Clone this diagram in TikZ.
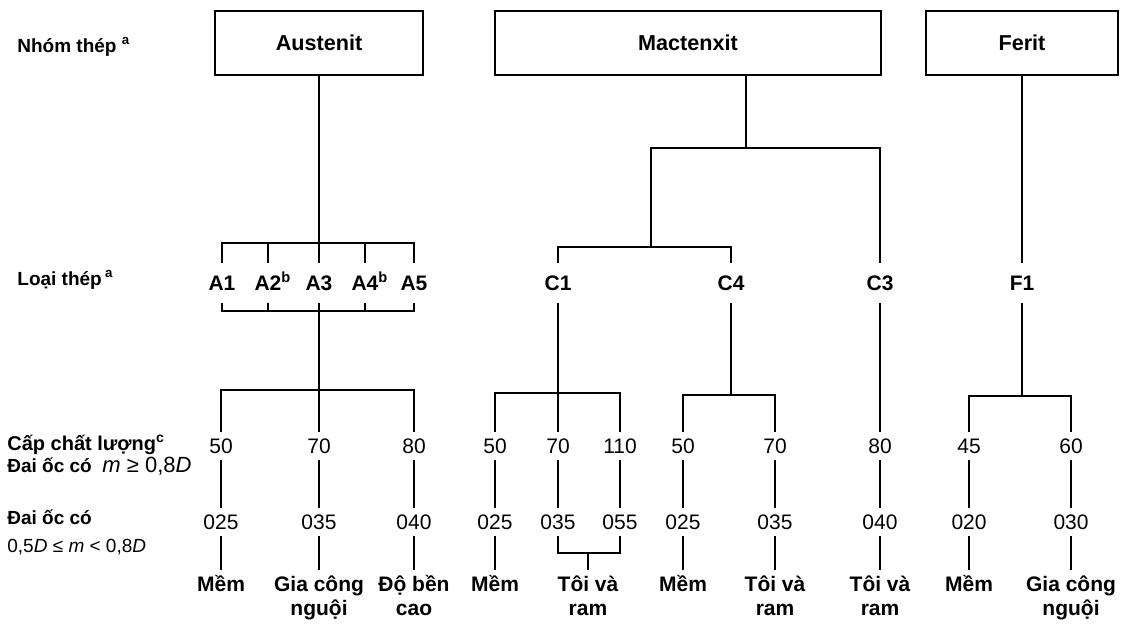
\documentclass[tikz,border=0pt]{standalone}
\usepackage{fontspec}
\setmainfont{Liberation Sans}
\usepackage{tikz}
\newcommand{\capstrut}{\vphantom{Ề}}

\begin{document}
\begin{tikzpicture}[x=0.5pt,y=-0.5pt]
\tikzstyle{steelgroup}=[draw,line width=1.3pt,minimum height=32pt,inner sep=3pt,font=\bfseries\fontsize{10.8}{13}\selectfont]
\tikzstyle{kind}=[inner sep=6pt,text height=7.5pt,text depth=0pt,font=\bfseries\fontsize{10.5}{12}\selectfont]
\tikzstyle{grade}=[inner sep=3pt,text height=7.5pt,text depth=0pt,font=\fontsize{10.5}{12}\selectfont]
\tikzstyle{treat}=[anchor=north,inner sep=1pt,align=center,font=\bfseries\fontsize{10.5}{12}\selectfont]
\tikzstyle{rowlabel}=[anchor=base west,inner sep=0pt,font=\bfseries\fontsize{9.5}{11}\selectfont]
\tikzstyle{link}=[line width=0.85pt]
\useasboundingbox (0,0) rectangle (1127,628);

\node[rowlabel] (lnhom) at (17,52) {Nhóm thép \textsuperscript{a}};
\node[rowlabel] (lloai) at (17,285) {Loại thép\,\textsuperscript{a}};
\node[rowlabel,font=\bfseries\fontsize{10}{12}\selectfont] (lcap) at (7,450) {Cấp chất lượng\textsuperscript{c}};
\node[rowlabel] (lday1) at (7,472) {Đai ốc có\ \ {\mdseries\fontsize{11}{12}\selectfont\textit{m} ≥ 0,8\textit{D}}};
\node[rowlabel] (lday2) at (7,524) {Đai ốc có};
\node[rowlabel,font=\fontsize{9.5}{11}\selectfont] (lday3) at (7,552) {0,5\textit{D} ≤ \textit{m} < 0,8\textit{D}};

\node[steelgroup,minimum width=104pt] (aus) at (319,43) {Austenit};
\node[steelgroup,minimum width=193pt] (mac) at (688,43) {Mactenxit};
\node[steelgroup,minimum width=96pt] (fer) at (1022,43) {Ferit};

\node[kind] (a1) at (222,283) {A1};
\node[kind] (a2) at (268,283) {A2\rlap{\textsuperscript{b}}};
\node[kind] (a3) at (319,283) {A3};
\node[kind] (a4) at (365,283) {A4\rlap{\textsuperscript{b}}};
\node[kind] (a5) at (414,283) {A5};
\node[kind] (c1) at (558,283) {C1};
\node[kind] (c4) at (731,283) {C4};
\node[kind] (c3) at (880,283) {C3};
\node[kind] (f1) at (1022,283) {F1};

\coordinate (ta) at (319,243);
\coordinate (ba) at (319,311);
\coordinate (ga) at (319,390);
\coordinate (jm) at (746,148);
\coordinate (jl) at (651,247);
\coordinate (g1) at (558,393);
\coordinate (g4) at (731,395);
\coordinate (gf) at (1022,396);
\coordinate (jt) at (588,553);

\node[grade] (a50) at (221,446) {50};
\node[grade] (a70) at (319,446) {70};
\node[grade] (a80) at (414,446) {80};
\node[grade] (c150) at (495,446) {50};
\node[grade] (c170) at (558,446) {70};
\node[grade] (c1110) at (620,446) {110};
\node[grade] (c450) at (683,446) {50};
\node[grade] (c470) at (775,446) {70};
\node[grade] (c380) at (880,446) {80};
\node[grade] (f45) at (969,446) {45};
\node[grade] (f60) at (1071,446) {60};

\node[grade] (a025) at (221,522) {025};
\node[grade] (a035) at (319,522) {035};
\node[grade] (a040) at (414,522) {040};
\node[grade] (c1025) at (495,522) {025};
\node[grade] (c1035) at (558,522) {035};
\node[grade] (c1055) at (620,522) {055};
\node[grade] (c4025) at (683,522) {025};
\node[grade] (c4035) at (775,522) {035};
\node[grade] (c3040) at (880,522) {040};
\node[grade] (f020) at (969,522) {020};
\node[grade] (f030) at (1071,522) {030};

\node[treat] (amem) at (221,570) {\capstrut Mềm};
\node[treat] (agia) at (319,570) {\capstrut Gia công\\nguội};
\node[treat] (ado) at (414,570) {\capstrut Độ bền\\cao};
\node[treat] (c1mem) at (495,570) {\capstrut Mềm};
\node[treat] (c1toi) at (588,570) {\capstrut Tôi và\\ram};
\node[treat] (c4mem) at (683,570) {\capstrut Mềm};
\node[treat] (c4toi) at (775,570) {\capstrut Tôi và\\ram};
\node[treat] (c3toi) at (880,570) {\capstrut Tôi và\\ram};
\node[treat] (fmem) at (969,570) {\capstrut Mềm};
\node[treat] (fgia) at (1071,570) {\capstrut Gia công\\nguội};

\draw[link] (aus.south) -- (a3.north);
\draw[link] (a1.north) |- (ta) -| (a5.north);
\draw[link] (a2.north) -- (a2.north |- ta);
\draw[link] (a4.north) -- (a4.north |- ta);
\draw[link] (a1.south) |- (ba) -| (a5.south);
\draw[link] (a2.south) -- (a2.south |- ba);
\draw[link] (a4.south) -- (a4.south |- ba);
\draw[link] (a3.south) -- (a70.north);
\draw[link] (a50.north) |- (ga) -| (a80.north);

\draw[link] (mac.south -| jm) -- (jm);
\draw[link] (jl) |- (jm) -| (c3.north);
\draw[link] (c1.north) |- (jl) -| (c4.north);
\draw[link] (c1.south) -- (c170.north);
\draw[link] (c150.north) |- (g1) -| (c1110.north);
\draw[link] (c4.south) -- (g4);
\draw[link] (c450.north) |- (g4) -| (c470.north);
\draw[link] (c3.south) -- (c380.north);
\draw[link] (fer.south) -- (f1.north);
\draw[link] (f1.south) -- (gf);
\draw[link] (f45.north) |- (gf) -| (f60.north);

\draw[link] (a50) -- (a025);
\draw[link] (a70) -- (a035);
\draw[link] (a80) -- (a040);
\draw[link] (c150) -- (c1025);
\draw[link] (c170) -- (c1035);
\draw[link] (c1110) -- (c1055);
\draw[link] (c450) -- (c4025);
\draw[link] (c470) -- (c4035);
\draw[link] (c380) -- (c3040);
\draw[link] (f45) -- (f020);
\draw[link] (f60) -- (f030);

\draw[link] (a025.south) -- (amem.north);
\draw[link] (a035.south) -- (agia.north);
\draw[link] (a040.south) -- (ado.north);
\draw[link] (c1025.south) -- (c1mem.north);
\draw[link] (c1035.south) |- (jt) -| (c1055.south);
\draw[link] (jt) -- (c1toi.north);
\draw[link] (c4025.south) -- (c4mem.north);
\draw[link] (c4035.south) -- (c4toi.north);
\draw[link] (c3040.south) -- (c3toi.north);
\draw[link] (f020.south) -- (fmem.north);
\draw[link] (f030.south) -- (fgia.north);
\end{tikzpicture}
\end{document}
